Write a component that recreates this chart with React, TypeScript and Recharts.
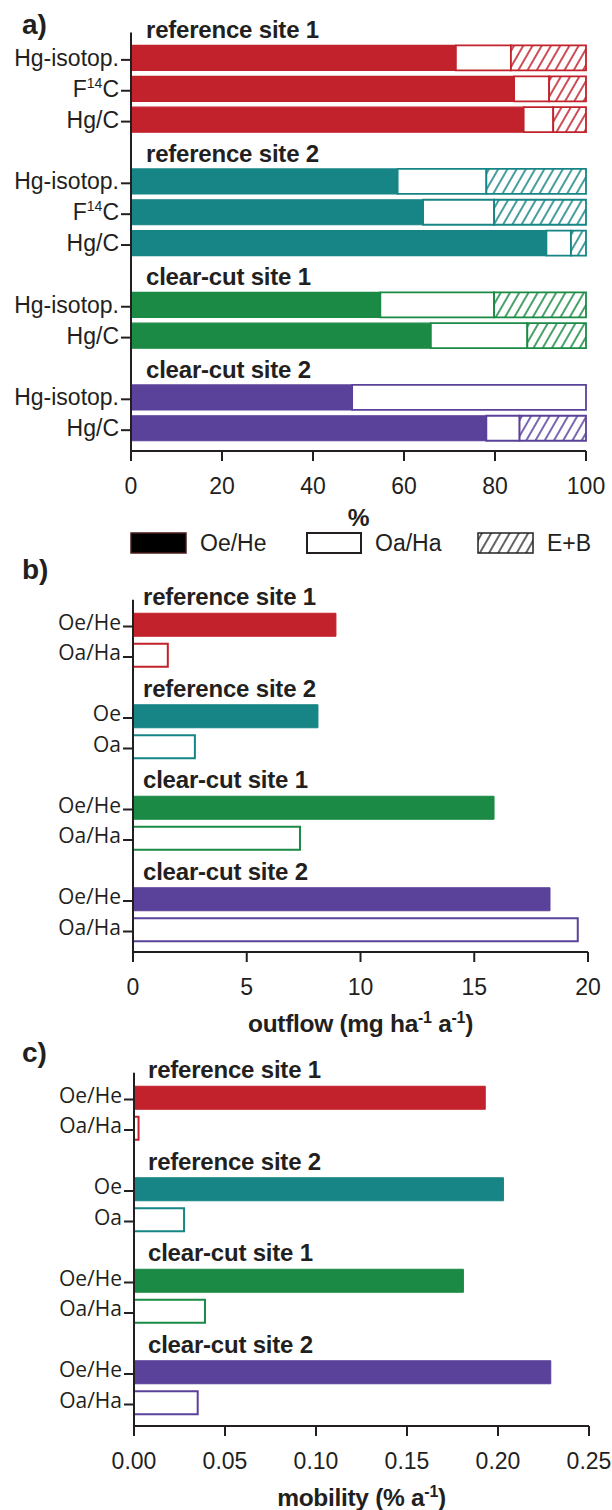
import React from 'react'
import { BarChart, Bar, XAxis, YAxis, Cell, Label } from 'recharts'

const siteNames = ['reference site 1', 'reference site 2', 'clear-cut site 1', 'clear-cut site 2']
const siteColors = ['#C1222B', '#178585', '#1A8A44', '#5A4199']

// a) proportion of the Hg stock held in each horizon (%)
const proxyNames = [
  ['Hg-isotop.', 'F14C', 'Hg/C'],
  ['Hg-isotop.', 'F14C', 'Hg/C'],
  ['Hg-isotop.', 'Hg/C'],
  ['Hg-isotop.', 'Hg/C'],
]
const oeShare = [[71.4, 84.2, 86.3], [58.6, 64.2, 91.3], [54.8, 65.9], [48.6, 78.1]]
const oaShare = [[12.1, 7.7, 6.5], [19.5, 15.6, 5.4], [25.0, 21.2], [51.4, 7.3]]
const ebShare = [[16.5, 8.1, 7.2], [21.9, 20.2, 3.3], [20.2, 12.9], [0, 14.6]]
const shareTicks = [0, 20, 40, 60, 80, 100]

// b) / c) horizon outflow and mobility
const horizonNames = [['Oe/He', 'Oa/Ha'], ['Oe', 'Oa'], ['Oe/He', 'Oa/Ha'], ['Oe/He', 'Oa/Ha']]
const outflowOe = [8.92, 8.13, 15.87, 18.33]
const outflowOa = [1.53, 2.72, 7.34, 19.55]
const outflowTicks = [0, 5, 10, 15, 20]
const mobilityOe = [0.193, 0.203, 0.181, 0.229]
const mobilityOa = [0.0025, 0.0275, 0.039, 0.035]
const mobilityTicks = [0, 0.05, 0.1, 0.15, 0.2, 0.25]

const INK = '#231F20'
const HELV = '"Liberation Sans", Arial, sans-serif'
const MYRIAD = '"Open Sans", sans-serif'

type Row = {
  id: string
  site: number
  title?: string
  label?: string
  oe?: number
  oa?: number
  eb?: number
  value?: number
  filled?: boolean
}

const shareRows: Row[] = siteNames.flatMap((title, s) => [
  { id: `t${s}`, site: s, title },
  ...proxyNames[s].map((label, i) => ({
    id: `a${s}${i}`,
    site: s,
    label,
    oe: oeShare[s][i],
    oa: oaShare[s][i],
    eb: ebShare[s][i],
  })),
])

function horizonRows(oe: number[], oa: number[]): Row[] {
  return siteNames.flatMap((title, s) => [
    { id: `t${s}`, site: s, title },
    { id: `e${s}`, site: s, label: horizonNames[s][0], value: oe[s], filled: true },
    { id: `o${s}`, site: s, label: horizonNames[s][1], value: oa[s], filled: false },
  ])
}

const outflowRows = horizonRows(outflowOe, outflowOa)
const mobilityRows = horizonRows(mobilityOe, mobilityOa)

function proxyText(label: string) {
  if (label === 'F14C') {
    return (
      <>
        <tspan>F</tspan>
        <tspan fontSize={14} dy={-9}>14</tspan>
        <tspan dy={9}>C</tspan>
      </>
    )
  }
  return label
}

// y-axis tick: either a bold site heading inside the plot or a row label with its tick mark
function rowTick(rows: Row[], axisX: number, titleDx: number, font: string, size: number, labelDy: number) {
  return (props: any) => {
    const { y, payload } = props
    const row = rows.find((r) => r.id === payload.value)
    if (!row) return <g />
    if (row.title) {
      return (
        <text
          x={axisX + titleDx}
          y={y + 3}
          dy="0.35em"
          fontFamily={HELV}
          fontWeight="bold"
          fontSize={24}
          letterSpacing={-0.2}
          fill={INK}
        >
          {row.title}
        </text>
      )
    }
    return (
      <g>
        <line x1={axisX - 10} x2={axisX} y1={y + 2} y2={y + 2} stroke={INK} strokeWidth={2} />
        <text
          x={axisX - 12}
          y={y + labelDy}
          dy="0.35em"
          textAnchor="end"
          fontFamily={font}
          fontSize={size}
          fill={INK}
        >
          {proxyText(row.label || '')}
        </text>
      </g>
    )
  }
}

function axisTitle(content: React.ReactNode, dy: number) {
  return (props: any) => {
    const { x, y, width } = props.viewBox
    return (
      <text
        x={x + width / 2}
        y={y + dy}
        dy="0.35em"
        textAnchor="middle"
        fontFamily={HELV}
        fontWeight="bold"
        fontSize={24.5}
        letterSpacing={-0.3}
        fill={INK}
      >
        {content}
      </text>
    )
  }
}

const tickStyle = { fill: INK, fontSize: 23, fontFamily: HELV }

function PanelLetter({ text, top }: { text: string; top: number }) {
  return (
    <div
      style={{
        position: 'absolute',
        left: 22,
        top: top - 17,
        fontFamily: HELV,
        fontWeight: 'bold',
        fontSize: 28,
        lineHeight: '34px',
        color: INK,
      }}
    >
      {text}
    </div>
  )
}

function ShareLegend() {
  return (
    <svg width={612} height={30} style={{ position: 'absolute', left: 0, top: 528 }}>
      <defs>
        <pattern id="legendHatch" width={8} height={8} patternUnits="userSpaceOnUse" patternTransform="rotate(30)">
          <line x1={4} y1={0} x2={4} y2={8} stroke={INK} strokeWidth={1.4} />
        </pattern>
      </defs>
      <rect x={131} y={5} width={55} height={20} fill="#000" stroke="#4A1C1C" strokeWidth={1.5} />
      <text x={200} y={15} dy="0.35em" fontFamily={HELV} fontSize={23} fill={INK}>Oe/He</text>
      <rect x={307} y={5} width={54} height={20} fill="#fff" stroke={INK} strokeWidth={2} />
      <text x={375} y={15} dy="0.35em" fontFamily={HELV} fontSize={23} fill={INK}>Oa/Ha</text>
      <rect x={478} y={5} width={55} height={20} fill="url(#legendHatch)" stroke={INK} strokeWidth={1.5} />
      <text x={547} y={15} dy="0.35em" fontFamily={HELV} fontSize={23} fill={INK}>E+B</text>
    </svg>
  )
}

function ShareChart() {
  return (
    <div style={{ position: 'absolute', left: 0, top: 0 }}>
      <BarChart
        width={612}
        height={531}
        data={shareRows}
        layout="vertical"
        margin={{ top: 32.6, right: 26, bottom: 0, left: 0 }}
      >
        <defs>
          {siteColors.map((c, i) => (
            <pattern
              key={c}
              id={`hatch${i}`}
              width={8}
              height={8}
              patternUnits="userSpaceOnUse"
              patternTransform="rotate(30)"
            >
              <rect width={8} height={8} fill="#fff" />
              <line x1={4} y1={0} x2={4} y2={8} stroke={c} strokeWidth={1.6} />
            </pattern>
          ))}
        </defs>
        <XAxis
          type="number"
          domain={[0, 100]}
          ticks={shareTicks}
          height={80}
          tickSize={10}
          tickMargin={17}
          stroke={INK}
          strokeWidth={2}
          tick={tickStyle}
        >
          <Label content={axisTitle('%', 66)} />
        </XAxis>
        <YAxis
          type="category"
          dataKey="id"
          width={131}
          interval={0}
          tickLine={false}
          stroke={INK}
          strokeWidth={2}
          padding={{ top: -21, bottom: 7.4 }}
          tick={rowTick(shareRows, 131, 15, HELV, 23, 0)}
        />
        <Bar dataKey="oe" stackId="s" barSize={25} isAnimationActive={false}>
          {shareRows.map((r) => (
            <Cell key={r.id} fill={siteColors[r.site]} stroke={siteColors[r.site]} strokeWidth={1.2} />
          ))}
        </Bar>
        <Bar dataKey="oa" stackId="s" barSize={25} isAnimationActive={false}>
          {shareRows.map((r) => (
            <Cell key={r.id} fill="#fff" stroke={siteColors[r.site]} strokeWidth={1.8} />
          ))}
        </Bar>
        <Bar dataKey="eb" stackId="s" barSize={25} isAnimationActive={false}>
          {shareRows.map((r) => (
            <Cell key={r.id} fill={`url(#hatch${r.site})`} stroke={siteColors[r.site]} strokeWidth={1.8} />
          ))}
        </Bar>
      </BarChart>
    </div>
  )
}

type HorizonProps = {
  rows: Row[]
  top: number
  height: number
  axisX: number
  right: number
  marginTop: number
  padBottom: number
  domain: [number, number]
  ticks: number[]
  fmt?: (v: number) => string
  title: React.ReactNode
  titleDy: number
  titleDx: number
  xHeight: number
}

function HorizonChart(p: HorizonProps) {
  return (
    <div style={{ position: 'absolute', left: 0, top: p.top }}>
      <BarChart
        width={612}
        height={p.height}
        data={p.rows}
        layout="vertical"
        margin={{ top: p.marginTop, right: p.right, bottom: 0, left: 0 }}
      >
        <XAxis
          type="number"
          domain={p.domain}
          ticks={p.ticks}
          tickFormatter={p.fmt}
          height={p.xHeight}
          tickSize={10}
          tickMargin={17}
          stroke={INK}
          strokeWidth={2}
          tick={tickStyle}
        >
          <Label content={axisTitle(p.title, p.titleDy)} />
        </XAxis>
        <YAxis
          type="category"
          dataKey="id"
          width={p.axisX}
          interval={0}
          tickLine={false}
          stroke={INK}
          strokeWidth={2}
          padding={{ top: -21, bottom: p.padBottom }}
          tick={rowTick(p.rows, p.axisX, p.titleDx, MYRIAD, 21, -2)}
        />
        <Bar dataKey="value" barSize={23} isAnimationActive={false}>
          {p.rows.map((r) =>
            r.filled ? (
              <Cell key={r.id} fill={siteColors[r.site]} stroke={siteColors[r.site]} strokeWidth={1} />
            ) : (
              <Cell key={r.id} fill="#fff" stroke={siteColors[r.site]} strokeWidth={2} />
            ),
          )}
        </Bar>
      </BarChart>
    </div>
  )
}

const outflowTitle = (
  <>
    outflow (mg ha
    <tspan fontSize={16} dy={-9}>-1</tspan>
    <tspan dy={9}> a</tspan>
    <tspan fontSize={16} dy={-9}>-1</tspan>
    <tspan dy={9}>)</tspan>
  </>
)

const mobilityTitle = (
  <>
    mobility (% a
    <tspan fontSize={16} dy={-9}>-1</tspan>
    <tspan dy={9}>)</tspan>
  </>
)

export default function App() {
  return (
    <div
      style={{
        position: 'absolute',
        left: 0,
        top: 0,
        width: 612,
        height: 1510,
        background: '#fff',
        overflow: 'hidden',
      }}
    >
      <ShareChart />
      <ShareLegend />
      <HorizonChart
        rows={outflowRows}
        top={560}
        height={490}
        axisX={133}
        right={24}
        marginTop={39.75}
        padBottom={7.25}
        domain={[0, 20]}
        ticks={outflowTicks}
        title={outflowTitle}
        titleDy={71}
        titleDx={10}
        xHeight={98}
      />
      <HorizonChart
        rows={mobilityRows}
        top={1040}
        height={470}
        axisX={134}
        right={23}
        marginTop={32.75}
        padBottom={8.25}
        domain={[0, 0.25]}
        ticks={mobilityTicks}
        fmt={(v) => v.toFixed(2)}
        title={mobilityTitle}
        titleDy={71}
        titleDx={14}
        xHeight={84}
      />
      <PanelLetter text="a)" top={25} />
      <PanelLetter text="b)" top={570} />
      <PanelLetter text="c)" top={1053} />
    </div>
  )
}
